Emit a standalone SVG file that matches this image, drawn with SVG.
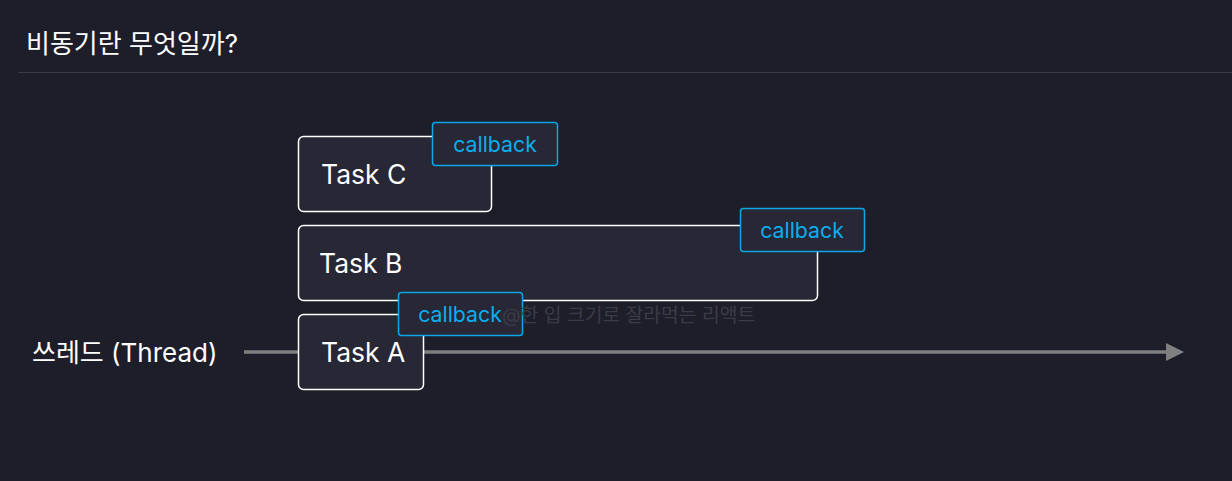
<svg xmlns="http://www.w3.org/2000/svg" width="1232" height="481" viewBox="0 0 1232 481">
<defs>
<style>
.bg{fill:#1e1e2b}
.task{fill:#272735;stroke:#ffffff;stroke-width:1.5}
.cb{fill:#272735;stroke:#0aa6e6;stroke-width:1.5}
.tt{font-family:Inter,"Noto Sans CJK KR",sans-serif;font-size:26.5px;fill:#ffffff}
.ct{font-family:Inter,"Noto Sans CJK KR",sans-serif;font-size:21.3px;fill:#0aaeee;text-anchor:middle}
.lbl{font-family:Inter,"Noto Sans CJK KR",sans-serif;font-size:26px;fill:#ffffff}
.wm{font-family:Inter,"Noto Sans CJK KR",sans-serif;font-size:19.3px;fill:#3b3b48}
</style>
<marker id="arr" markerWidth="5" markerHeight="5" refX="0" refY="2.5" orient="auto" markerUnits="strokeWidth">
<path d="M0,0 L5,2.5 L0,5 Z" fill="#808080"/>
</marker>
</defs>
<rect class="bg" x="0" y="0" width="1232" height="481"/>
<text class="lbl" x="26" y="53" font-size="25.5">비동기란 무엇일까?</text>
<line x1="18" y1="72.5" x2="1232" y2="72.5" stroke="#3a3a46" stroke-width="1"/>
<g id="connectors">
<line x1="244" y1="352" x2="1166" y2="352" stroke="#808080" stroke-width="3.6" marker-end="url(#arr)"/>
</g>
<text class="lbl" x="32" y="362">쓰레드 (Thread)</text>
<g id="taskC">
<rect class="task" x="298.5" y="136.5" width="193" height="75" rx="5"/>
<text class="tt" x="321" y="184">Task C</text>
</g>
<g id="callbackC">
<rect class="cb" x="432.5" y="122.5" width="125" height="43" rx="3"/>
<text class="ct" x="495" y="152">callback</text>
</g>
<g id="taskB">
<rect class="task" x="298.5" y="225.5" width="519" height="75" rx="5"/>
<text class="tt" x="319" y="273">Task B</text>
</g>
<g id="callbackB">
<rect class="cb" x="740.5" y="208.5" width="124" height="43" rx="3"/>
<text class="ct" x="802" y="238">callback</text>
</g>
<g id="taskA">
<rect class="task" x="298.5" y="314.5" width="125" height="75" rx="5"/>
<text class="tt" x="321" y="362">Task A</text>
</g>
<g id="callbackA">
<rect class="cb" x="398.5" y="292.5" width="124" height="43" rx="3"/>
<text class="ct" x="460" y="322">callback</text>
</g>
<text class="wm" x="502" y="322">@한 입 크기로 잘라먹는 리액트</text>
</svg>
